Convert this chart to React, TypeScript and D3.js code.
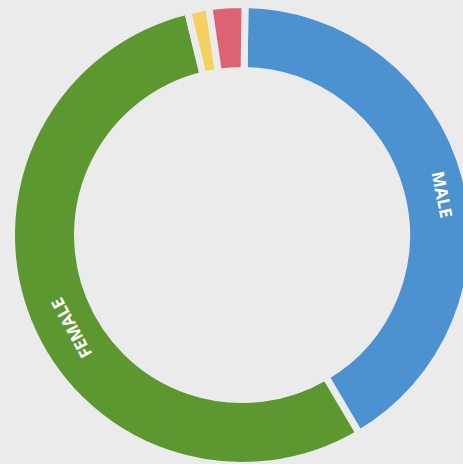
import React from "react";
import * as d3 from "d3";

const categories = ["MALE", "FEMALE", "OTHER", "UNKNOWN"];
const values = [41.3, 54.7, 1.5, 2.5];
const colors = ["#4C92D1", "#5D9730", "#F4D060", "#DC6274"];
const shownLabels = ["MALE", "FEMALE"];

const W = 463;
const H = 464;
const BG = "#EBEBEB";
const startDeg = 0.75;
const labelAngleShift = [3.5, -6.5, 0, 0];
const labelRadiusShift = [7, -3, 0, 0];

export default function App() {
  const cx = 242;
  const cy = 235;
  const gap = 7;
  const outerR = 227 + gap / 2;
  const innerR = 168 - gap / 2;
  const data = categories.map((c, i) => ({ c, v: values[i], color: colors[i], i }));
  const start = (startDeg * Math.PI) / 180;
  const pie = d3
    .pie<any>()
    .value((d) => d.v)
    .sort(null)
    .startAngle(start)
    .endAngle(start + 2 * Math.PI);
  const arcs = pie(data);
  const arc = d3.arc<any>().innerRadius(innerR).outerRadius(outerR);
  const labelR = (innerR + outerR) / 2;
  return (
    <svg
      width={W}
      height={H}
      style={{ position: "absolute", left: 0, top: 0, background: BG }}
    >
      <rect x={0} y={0} width={W} height={H} fill={BG} />
      <g transform={`translate(${cx},${cy})`}>
        {arcs.map((a, i) => (
          <path key={i} d={arc(a) as string} fill={a.data.color} stroke={BG} strokeWidth={gap} />
        ))}
        {arcs.map((a, i) => {
          if (!shownLabels.includes(a.data.c)) return null;
          const mid = (a.startAngle + a.endAngle) / 2 + (labelAngleShift[i] * Math.PI) / 180;
          const r = labelR + labelRadiusShift[i];
          const x = r * Math.sin(mid);
          const y = -r * Math.cos(mid);
          const deg = (mid * 180) / Math.PI;
          return (
            <text
              key={"t" + i}
              transform={`translate(${x},${y}) rotate(${deg})`}
              textAnchor="middle"
              dominantBaseline="central"
              fill="#fff"
              fontFamily="'Open Sans', sans-serif"
              fontWeight={700}
              fontSize={17}
            >
              {a.data.c}
            </text>
          );
        })}
      </g>
    </svg>
  );
}
